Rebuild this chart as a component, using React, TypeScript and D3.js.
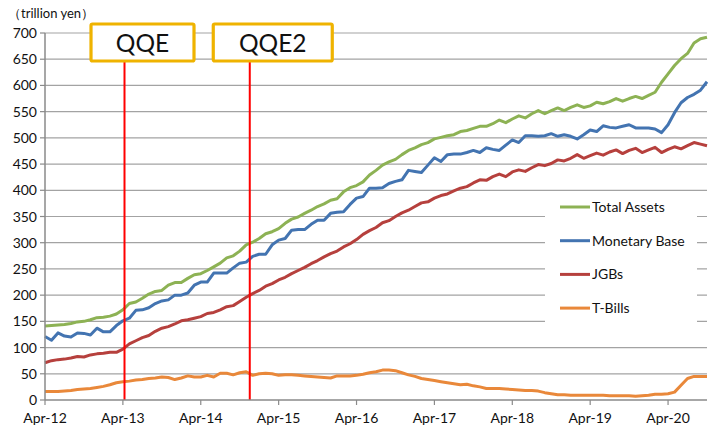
import React from "react";
import * as d3 from "d3";

const tickLabels = ["Apr-12", "Apr-13", "Apr-14", "Apr-15", "Apr-16", "Apr-17", "Apr-18", "Apr-19", "Apr-20"];
const yTicks = [0, 50, 100, 150, 200, 250, 300, 350, 400, 450, 500, 550, 600, 650, 700];

const totalAssets = [
  141, 142, 143, 144, 146, 149, 150, 153, 157, 158, 160, 164, 172, 184, 187, 194, 202, 207, 209, 219,
  224, 224, 232, 239, 241, 247, 254, 261, 271, 275, 284, 296, 301, 308, 317, 321, 327, 337, 345, 349,
  356, 362, 369, 374, 381, 384, 397, 405, 409, 416, 429, 438, 448, 454, 459, 468, 476, 481, 487, 491,
  498, 501, 504, 506, 512, 514, 518, 522, 522, 527, 534, 529, 536, 542, 538, 546, 552, 546, 552, 557,
  552, 558, 563, 558, 561, 568, 565, 569, 575, 570, 575, 579, 575, 581, 587, 606, 622, 638, 651, 661,
  681, 689, 692,
];
const monetaryBase = [
  121, 114, 128, 122, 120, 128, 127, 124, 137, 130, 130, 142, 151, 156, 171, 172, 176, 184, 189, 191,
  200, 200, 204, 219, 225, 225, 242, 242, 242, 252, 261, 263, 274, 278, 278, 296, 305, 308, 324, 325,
  325, 335, 343, 343, 356, 358, 359, 373, 385, 388, 404, 404, 405, 413, 417, 420, 438, 436, 434, 448,
  462, 455, 468, 469, 469, 472, 476, 472, 481, 478, 476, 486, 496, 491, 504, 504, 503, 504, 508, 503,
  506, 503, 498, 506, 515, 512, 523, 520, 519, 522, 525, 519, 519, 519, 517, 510, 525, 548, 567, 577,
  583, 591, 607,
];
const jgbs = [
  71, 75, 77, 78, 80, 83, 82, 86, 88, 89, 91, 91, 97, 107, 113, 119, 123, 131, 137, 140,
  145, 151, 153, 156, 159, 165, 167, 172, 178, 180, 188, 196, 203, 209, 217, 222, 229, 234, 241, 247,
  253, 260, 266, 273, 279, 284, 292, 298, 306, 316, 323, 329, 338, 342, 350, 357, 362, 369, 376, 378,
  385, 390, 393, 399, 404, 407, 414, 420, 419, 426, 431, 426, 435, 439, 436, 443, 449, 447, 451, 458,
  456, 461, 468, 461, 466, 471, 467, 473, 477, 470, 476, 480, 472, 477, 482, 472, 478, 483, 479, 485,
  491, 488, 485,
];
const tBills = [
  16, 16, 16, 17, 18, 20, 21, 22, 24, 26, 29, 33, 35, 36, 38, 39, 41, 42, 44, 43,
  39, 42, 46, 44, 44, 47, 44, 51, 51, 48, 52, 54, 47, 50, 51, 50, 47, 48, 48, 47,
  46, 45, 44, 43, 42, 46, 46, 46, 47, 49, 52, 54, 57, 57, 56, 52, 48, 45, 41, 39,
  37, 35, 33, 31, 29, 30, 27, 25, 22, 22, 22, 21, 20, 19, 18, 18, 17, 14, 12, 10,
  10, 9, 9, 9, 9, 9, 9, 8, 8, 8, 8, 7, 8, 9, 11, 11, 12, 15, 28, 41,
  45, 45, 45,
];

const seriesNames = ["Total Assets", "Monetary Base", "JGBs", "T-Bills"];
const seriesColors = ["#8db254", "#4374b1", "#b6403d", "#e9883a"];
const seriesData = [totalAssets, monetaryBase, jgbs, tBills];

const eventLabels = ["QQE", "QQE2"];
const eventIndex = [12.25, 31.55];

const W = 710;
const H = 427;
const M = { left: 45, right: 3, top: 33, bottom: 27 };
const FONT = "Lato, 'Open Sans', sans-serif";

export default function App() {
  const n = totalAssets.length;
  const x = d3.scaleLinear().domain([0, n - 1]).range([M.left, W - M.right]);
  const y = d3.scaleLinear().domain([0, 700]).range([H - M.bottom, M.top]);
  const line = (vals: number[]) =>
    d3.line<number>().x((_, i) => x(i)).y((v) => y(v))(vals) || "";

  const boxes = [
    { dx: -33.5, w: 103 },
    { dx: -36.5, w: 119 },
  ];
  const legendX = 545;
  const legendY = 191;

  return (
    <svg
      width={W}
      height={H}
      style={{ position: "absolute", left: 0, top: 0, background: "#fff" }}
      fontFamily={FONT}
    >
      {yTicks.filter((t) => t > 0).map((t) => (
        <line key={t} x1={M.left} x2={W - M.right} y1={y(t)} y2={y(t)} stroke="#a3a3a3" strokeWidth={1.2} />
      ))}
      {yTicks.map((t) => (
        <g key={"yt" + t}>
          <line x1={M.left - 5} x2={M.left} y1={y(t)} y2={y(t)} stroke="#8a8a8a" strokeWidth={1.2} />
          <text x={37} y={y(t)} dy="0.36em" textAnchor="end" fontSize={14} fill="#111">
            {t}
          </text>
        </g>
      ))}
      <text x={8} y={18} fontSize={13} fill="#111">（trillion yen）</text>

      <rect x={legendX} y={legendY} width={152} height={132} fill="#fff" />

      {seriesData.map((d, i) => (
        <path key={seriesNames[i]} d={line(d)} fill="none" stroke={seriesColors[i]} strokeWidth={3} strokeLinejoin="round" />
      ))}

      {eventIndex.map((ei, k) => {
        const ex = x(ei);
        const b = boxes[k];
        return (
          <g key={eventLabels[k]}>
            <line x1={ex} x2={ex} y1={61} y2={y(0)} stroke="#ff0000" strokeWidth={2} />
            <rect x={ex + b.dx} y={24} width={b.w} height={37} fill="#fff" stroke="#efb300" strokeWidth={3.2} rx={1.5} />
            <text x={ex + b.dx + b.w / 2} y={52} textAnchor="middle" fontSize={24.5} fill="#111">
              {eventLabels[k]}
            </text>
          </g>
        );
      })}

      <line x1={M.left} x2={M.left} y1={M.top} y2={y(0)} stroke="#8a8a8a" strokeWidth={1.5} />
      <line x1={M.left} x2={W - M.right} y1={y(0)} y2={y(0)} stroke="#8a8a8a" strokeWidth={1.5} />
      {tickLabels.map((lab, k) => (
        <g key={lab}>
          <line x1={x(k * 12)} x2={x(k * 12)} y1={y(0)} y2={y(0) + 5} stroke="#8a8a8a" strokeWidth={1.2} />
          <text x={x(k * 12)} y={423} textAnchor="middle" fontSize={14} fill="#111">
            {lab}
          </text>
        </g>
      ))}

      {seriesNames.map((name, i) => {
        const ly = 207 + i * 33.7;
        return (
          <g key={"lg" + name}>
            <line x1={560} x2={590} y1={ly} y2={ly} stroke={seriesColors[i]} strokeWidth={3} />
            <text x={592} y={ly} dy="0.36em" fontSize={14} fill="#111">
              {name}
            </text>
          </g>
        );
      })}
    </svg>
  );
}
